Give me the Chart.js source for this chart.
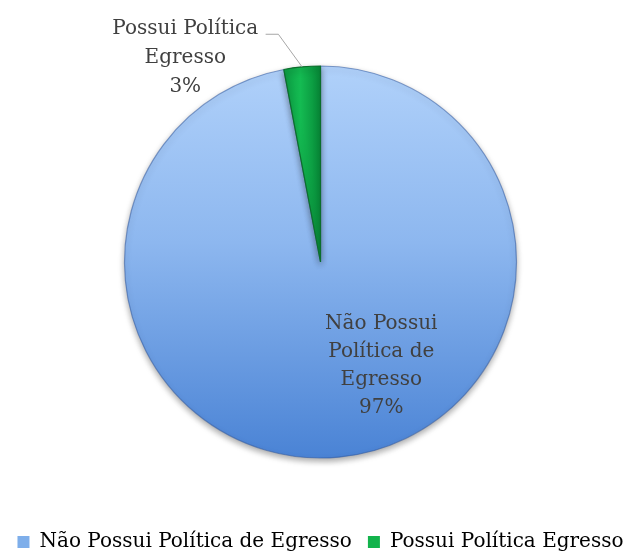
<!DOCTYPE html>
<html>
<head>
<meta charset="utf-8">
<script src="https://cdn.jsdelivr.net/npm/chart.js@4"></script>
<style>
html, body { margin: 0; padding: 0; background: #fff; }
#wrap { width: 641px; height: 552px; }
</style>
</head>
<body>
<div id="wrap"><canvas id="pieChart"></canvas></div>
<script>
var categories = ["Não Possui Política de Egresso", "Possui Política Egresso"];
var percentages = [97, 3];
var sliceLabels = [
    ["Não Possui", "Política de", "Egresso", "97%"],
    ["Possui Política", "Egresso", "3%"]
];
var legendColors = ["#7eaeea", "#13b34c"];

var pieRadius = 196;
var labelFont = "20px 'DejaVu Serif'";
var pieCanvas = document.getElementById("pieChart").getContext("2d");

function sliceFill(context) {
    var chart = context.chart;
    var area = chart.chartArea;
    if (!area) {
        return legendColors[context.dataIndex];
    }
    var cx = (area.left + area.right) / 2;
    var cy = (area.top + area.bottom) / 2;
    var r = pieRadius;
    var g;
    if (context.dataIndex === 0) {
        g = chart.ctx.createLinearGradient(0, cy - r, 0, cy + r);
        g.addColorStop(0, "#b0d1fa");
        g.addColorStop(0.45, "#8db7ef");
        g.addColorStop(1, "#4a83d5");
    } else {
        g = chart.ctx.createLinearGradient(cx - 40, 0, cx, 0);
        g.addColorStop(0, "#0a9640");
        g.addColorStop(0.5, "#14bb52");
        g.addColorStop(1, "#078a38");
    }
    return g;
}

// shadow under the pie
var shadowPlugin = {
    id: "pieShadow",
    beforeDatasetsDraw: function (chart) {
        var ctx = chart.ctx;
        ctx.save();
        ctx.shadowColor = "rgba(0, 0, 0, 0.35)";
        ctx.shadowBlur = 6;
        ctx.shadowOffsetY = 3;
    },
    afterDatasetsDraw: function (chart) {
        chart.ctx.restore();
    }
};

// data labels, like the Excel ones
var labelPlugin = {
    id: "sliceLabels",
    afterDraw: function (chart) {
        var ctx = chart.ctx;
        var meta = chart.getDatasetMeta(0);
        var big = meta.data[0];
        var small = meta.data[1];
        var cx = big.x, cy = big.y, r = big.outerRadius;

        ctx.save();
        ctx.font = labelFont;
        ctx.fillStyle = "#404040";
        ctx.textAlign = "center";
        ctx.textBaseline = "middle";

        // inside label
        var lx = cx + 0.31 * r;
        var ly = cy + 0.53 * r;
        var lines = sliceLabels[0];
        for (var i = 0; i < lines.length; i++) {
            ctx.fillText(lines[i], lx, ly + (i - (lines.length - 1) / 2) * 28);
        }

        // outside label with leader line
        var mid = (small.startAngle + small.endAngle) / 2;
        var ex = cx + r * Math.cos(mid);
        var ey = cy + r * Math.sin(mid);
        var tx = cx - 0.69 * r;
        var ty = cy - 1.19 * r;
        lines = sliceLabels[1];
        for (var j = 0; j < lines.length; j++) {
            ctx.fillText(lines[j], tx, ty + j * 29);
        }
        ctx.strokeStyle = "#a6a6a6";
        ctx.lineWidth = 1;
        ctx.beginPath();
        ctx.moveTo(cx - 0.28 * r, ty + 5.5);
        ctx.lineTo(cx - 0.215 * r, ty + 5.5);
        ctx.lineTo(ex, ey);
        ctx.stroke();
        ctx.restore();
    }
};

var pieChart = new Chart(pieCanvas, {
    type: "pie",
    data: {
        labels: categories,
        datasets: [{
            data: percentages,
            backgroundColor: sliceFill,
            borderColor: ["rgba(50, 90, 160, 0.55)", "#0b6e2c"],
            borderWidth: 1.2
        }]
    },
    options: {
        responsive: true,
        maintainAspectRatio: false,
        animation: false,
        radius: pieRadius,
        layout: {
            padding: { top: 8, bottom: -10, left: 0, right: 0 }
        },
        plugins: {
            tooltip: { enabled: false },
            legend: {
                position: "bottom",
                labels: {
                    boxWidth: 12,
                    boxHeight: 12,
                    padding: 16,
                    color: "#000",
                    font: { family: "'DejaVu Serif'", size: 20 },
                    generateLabels: function (chart) {
                        return categories.map(function (name, i) {
                            return {
                                text: name,
                                fillStyle: legendColors[i],
                                strokeStyle: legendColors[i],
                                lineWidth: 0,
                                index: i
                            };
                        });
                    }
                }
            }
        }
    },
    plugins: [shadowPlugin, labelPlugin]
});
</script>
</body>
</html>
